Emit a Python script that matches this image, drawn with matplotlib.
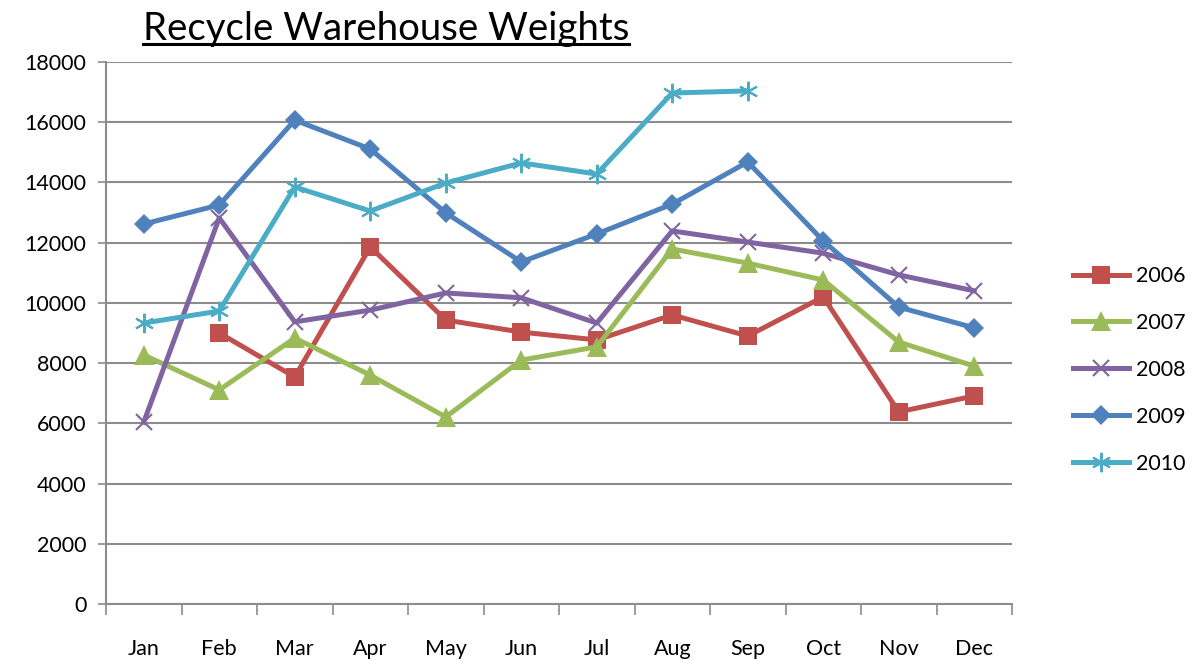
import numpy as np
from matplotlib import pyplot as plt
from matplotlib.lines import Line2D

plt.rcParams['font.family'] = ['Lato', 'DejaVu Sans']

months = ['Jan', 'Feb', 'Mar', 'Apr', 'May', 'Jun', 'Jul', 'Aug', 'Sep', 'Oct', 'Nov', 'Dec']
nan = np.nan
w2006 = [nan, 9000, 7540, 11860, 9430, 9030, 8770, 9600, 8900, 10200, 6380, 6910]
w2007 = [8270, 7110, 8830, 7600, 6210, 8100, 8540, 11790, 11320, 10760, 8700, 7900]
w2008 = [6040, 12820, 9370, 9760, 10330, 10170, 9330, 12390, 12020, 11650, 10930, 10400]
w2009 = [12620, 13250, 16070, 15110, 12990, 11360, 12290, 13280, 14680, 12060, 9860, 9170]
w2010 = [9330, 9730, 13850, 13050, 13980, 14650, 14280, 16970, 17040, nan, nan, nan]

series = [
    ('2006', w2006, '#C0504D', 's', 13.5, 0),
    ('2007', w2007, '#9BBB59', '^', 14.5, 0),
    ('2008', w2008, '#8064A2', 'x', 12, 1.5),
    ('2009', w2009, '#4F81BD', 'D', 10.5, 0),
    ('2010', w2010, '#4BACC6', (6, 2, 0), 14, 1.5),
]

fig = plt.figure(figsize=(11.93, 6.6), dpi=100)
ax = fig.add_axes([106 / 1193, 1 - 604 / 660, 906 / 1193, 542 / 660])

x = np.arange(len(months))
for name, vals, col, mk, ms, mew in series:
    ax.plot(x, vals, color=col, lw=3.6, marker=mk, markersize=ms,
            markerfacecolor=col, markeredgecolor=col, markeredgewidth=mew, label=name)

ax.set_xlim(-0.5, 11.5)
ax.set_ylim(0, 18000)
ax.set_yticks(np.arange(0, 18001, 2000))
ax.yaxis.grid(True, color='#8c8c8c', lw=1.5)
ax.set_axisbelow(True)

# ticks between categories, labels centred on them
ax.set_xticks(np.arange(-0.5, 12, 1))
ax.set_xticklabels([])
ax.set_xticks(x, minor=True)
ax.set_xticklabels(months, minor=True)
ax.tick_params(axis='x', which='major', length=8, width=1.2, color='#8c8c8c', direction='out')
ax.tick_params(axis='x', which='minor', length=0, pad=25, labelsize=15.5)
ax.tick_params(axis='y', length=6, width=1.2, color='#8c8c8c', labelsize=15.5, pad=8)

for s in ['top', 'right']:
    ax.spines[s].set_visible(False)
for s in ['left', 'bottom']:
    ax.spines[s].set_color('#8c8c8c')
    ax.spines[s].set_linewidth(1.5)

ax.legend(loc='center left', bbox_to_anchor=(1.058, 0.432), frameon=False,
          fontsize=15.5, handlelength=2.6, labelspacing=1.25, handletextpad=0.3,
          borderaxespad=0)

t = fig.text(143 / 1193, 1 - 40 / 660, 'Recycle Warehouse Weights', fontsize=27.6,
             ha='left', va='baseline')
fig.canvas.draw()
bb = t.get_window_extent().transformed(fig.transFigure.inverted())
fig.add_artist(Line2D([bb.x0, bb.x1], [1 - 44 / 660] * 2, color='black', lw=2.2,
                      transform=fig.transFigure))

plt.savefig('out.png', dpi=100)
